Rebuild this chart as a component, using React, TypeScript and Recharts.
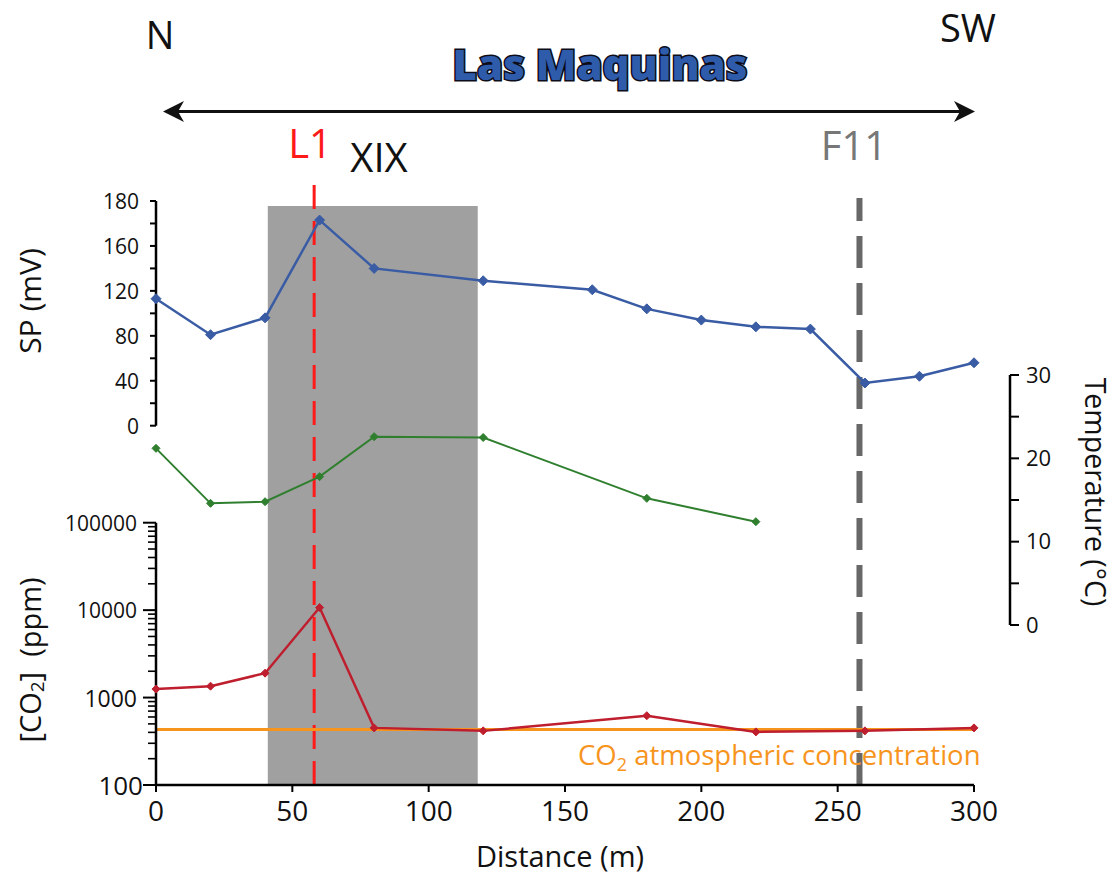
import React from 'react';
import { ComposedChart, Line, XAxis, YAxis, ReferenceLine, ReferenceArea } from 'recharts';

// ---------- data ----------
const spDistance = [0, 20, 40, 60, 80, 120, 160, 180, 200, 220, 240, 260, 280, 300];
const spValues = [113, 81, 96, 183, 140, 129, 121, 104, 94, 88, 86, 38, 44, 56];

const tempDistance = [0, 20, 40, 60, 80, 120, 180, 220];
const tempValues = [21.2, 14.6, 14.8, 17.8, 22.6, 22.5, 15.2, 12.4];

const co2Distance = [0, 20, 40, 60, 80, 120, 180, 220, 260, 300];
const co2Values = [1250, 1350, 1900, 10700, 450, 416, 620, 405, 416, 450];
const co2Atmospheric = 430;

const xTicks = [0, 50, 100, 150, 200, 250, 300];
const spTicks = [0, 20, 40, 60, 80, 100, 120, 140, 160, 180, 200];
const spTickLabels = ['0', '', '40', '', '80', '', '120', '', '160', '', '180'];
const tempTicks = [0, 5, 10, 15, 20, 25, 30];
const tempTickLabels = ['0', '', '10', '', '20', '', '30'];
const co2Ticks = [
  100, 200, 300, 400, 500, 600, 700, 800, 900,
  1000, 2000, 3000, 4000, 5000, 6000, 7000, 8000, 9000,
  10000, 20000, 30000, 40000, 50000, 60000, 70000, 80000, 90000,
  100000,
];
const co2TickLabels: Record<number, string> = { 100: '100', 1000: '1000', 10000: '10000', 100000: '100000' };

const l1Distance = 58;
const f11Distance = 258;
const xixStart = 41;
const xixEnd = 118;

const spData = spDistance.map((d, i) => ({ d, sp: spValues[i] }));
const tempData = tempDistance.map((d, i) => ({ d, t: tempValues[i] }));
const co2Data = co2Distance.map((d, i) => ({ d, co2: co2Values[i] }));

// ---------- layout ----------
const W = 1117;
const H = 877;
const PL = 156;
const PR = 974;

const SP_COLOR = '#3A5CA4';
const T_COLOR = '#2F7F2F';
const CO2_COLOR = '#BE1E2D';
const ORANGE = '#F7941D';
const FONT = '"Open Sans", "Noto Sans", sans-serif';

const co2LabelSize: Record<number, number> = { 100: 26, 1000: 23, 10000: 21, 100000: 21 };

const diamond = (size: number, color: string) => (props: any) => {
  const { cx, cy, index } = props;
  if (cx == null || cy == null) return <g key={`e${index}`} />;
  return (
    <path
      key={`d${index}`}
      d={`M${cx},${cy - size}L${cx + size},${cy}L${cx},${cy + size}L${cx - size},${cy}Z`}
      fill={color}
      stroke={color}
      strokeWidth={1}
    />
  );
};

const SpTick = (props: any) => {
  const { x, y, payload } = props;
  const i = spTicks.indexOf(payload.value);
  const label = spTickLabels[i];
  return (
    <g>
      <line x1={x - 6} x2={x} y1={y} y2={y} stroke="#000" strokeWidth={2} />
      {label ? (
        <text x={x - 17} y={y} textAnchor="end" dominantBaseline="central" fontSize={21} fill="#111">
          {label}
        </text>
      ) : null}
    </g>
  );
};

const Co2Tick = (props: any) => {
  const { x, y, payload } = props;
  const v = payload.value;
  const label = co2TickLabels[v];
  const major = !!label;
  return (
    <g>
      <line x1={x - (major ? 13 : 8)} x2={x} y1={y} y2={y} stroke="#000" strokeWidth={major ? 2 : 1.6} />
      {label ? (
        <text
          x={v === 100 ? x - 13 : x - 19}
          y={y}
          textAnchor="end"
          dominantBaseline="central"
          fontSize={co2LabelSize[v]}
          fill="#111"
        >
          {label}
        </text>
      ) : null}
    </g>
  );
};

const layer: React.CSSProperties = { position: 'absolute', left: 0, top: 0 };

const hiddenX = <XAxis dataKey="d" type="number" domain={[0, 300]} hide />;

// a layer holding only a vertical marker spanning from `top` down to the x axis
const MarkerLayer = ({ top, children }: { top: number; children: React.ReactNode }) => (
  <div style={layer}>
    <ComposedChart width={W} height={H} data={spData} margin={{ left: PL, right: W - PR, top, bottom: H - 785 }}>
      {hiddenX}
      <YAxis hide type="number" domain={[0, 200]} allowDataOverflow />
      <Line dataKey="sp" stroke="none" dot={false} activeDot={false} isAnimationActive={false} />
      {children}
    </ComposedChart>
  </div>
);

export default function App() {
  return (
    <div
      style={{
        position: 'absolute',
        left: 0,
        top: 0,
        width: W,
        height: H,
        background: '#fff',
        fontFamily: FONT,
        overflow: 'hidden',
      }}
    >
      {/* gray XIX zone */}
      <MarkerLayer top={206}>
        <ReferenceArea x1={xixStart} x2={xixEnd} fill="#A0A0A0" fillOpacity={1} stroke="none" ifOverflow="visible" />
      </MarkerLayer>

      {/* F11 dashed line */}
      <MarkerLayer top={198}>
        <ReferenceLine x={f11Distance} stroke="#686868" strokeWidth={6} strokeDasharray="32 15" ifOverflow="visible" />
      </MarkerLayer>

      {/* L1 dashed line */}
      <MarkerLayer top={177}>
        <ReferenceLine x={l1Distance} stroke="#FF1A1A" strokeWidth={3} strokeDasharray="24 12" ifOverflow="visible" />
      </MarkerLayer>

      {/* SP panel */}
      <div style={layer}>
        <ComposedChart width={W} height={H} data={spData} margin={{ left: PL - 70, right: W - PR, top: 201, bottom: H - 425.7 }}>
          {hiddenX}
          <YAxis
            yAxisId="sp"
            orientation="left"
            width={70}
            type="number"
            domain={[0, 200]}
            ticks={spTicks}
            interval={0}
            tickSize={0}
            tickMargin={0}
            tickLine={false}
            axisLine={{ stroke: '#000', strokeWidth: 2.5 }}
            tick={SpTick}
          />
          <Line
            yAxisId="sp"
            dataKey="sp"
            stroke={SP_COLOR}
            strokeWidth={2.5}
            dot={diamond(5, SP_COLOR)}
            isAnimationActive={false}
          />
        </ComposedChart>
      </div>

      {/* Temperature panel */}
      <div style={layer}>
        <ComposedChart width={W} height={H} data={tempData} margin={{ left: PL, right: W - PR - 36 - 80, top: 375, bottom: H - 625 }}>
          {hiddenX}
          <YAxis yAxisId="spacer" orientation="right" width={36} domain={[0, 1]} axisLine={false} tickLine={false} tick={false} />
          <YAxis
            yAxisId="temp"
            orientation="right"
            width={80}
            type="number"
            domain={[0, 30]}
            ticks={tempTicks}
            interval={0}
            tickSize={9}
            tickMargin={7}
            tickLine={{ stroke: '#000', strokeWidth: 2 }}
            axisLine={{ stroke: '#000', strokeWidth: 2.5 }}
            tick={{ fontSize: 22, fill: '#111' }}
            tickFormatter={(v: number) => tempTickLabels[tempTicks.indexOf(v)]}
          />
          <Line
            yAxisId="temp"
            dataKey="t"
            stroke={T_COLOR}
            strokeWidth={2}
            dot={diamond(4, T_COLOR)}
            isAnimationActive={false}
          />
        </ComposedChart>
      </div>

      {/* CO2 panel */}
      <div style={layer}>
        <ComposedChart width={W} height={H} data={co2Data} margin={{ left: PL - 90, right: W - PR, top: 522.7, bottom: H - 785 - 60 }}>
          <XAxis
            dataKey="d"
            type="number"
            domain={[0, 300]}
            ticks={xTicks}
            interval={0}
            height={60}
            tickSize={7}
            tickMargin={9}
            axisLine={{ stroke: '#000', strokeWidth: 2.5 }}
            tickLine={{ stroke: '#000', strokeWidth: 2 }}
            tick={{ fontSize: 28, fill: '#111' }}
          />
          <YAxis
            yAxisId="co2"
            orientation="left"
            width={90}
            type="number"
            scale="log"
            domain={[100, 100000]}
            allowDataOverflow
            ticks={co2Ticks}
            interval={0}
            tickSize={0}
            tickMargin={0}
            tickLine={false}
            axisLine={{ stroke: '#000', strokeWidth: 2.5 }}
            tick={Co2Tick}
          />
          <ReferenceLine yAxisId="co2" y={co2Atmospheric} stroke={ORANGE} strokeWidth={3} />
          <Line
            yAxisId="co2"
            dataKey="co2"
            stroke={CO2_COLOR}
            strokeWidth={2.5}
            dot={diamond(4, CO2_COLOR)}
            isAnimationActive={false}
          />
        </ComposedChart>
      </div>

      {/* annotations */}
      <svg width={W} height={H} style={{ ...layer, pointerEvents: 'none' }} fontFamily={FONT}>
        <text x={160} y={49} textAnchor="middle" fontSize={38} fill="#111">N</text>
        <text x={968} y={42} textAnchor="middle" fontSize={38} fill="#111">SW</text>
        <text
          x={600}
          y={80}
          textAnchor="middle"
          fontSize={42}
          fontWeight={800}
          fill="#2E5BAA"
          stroke="#0d0d1a"
          strokeWidth={3}
          paintOrder="stroke"
        >
          Las Maquinas
        </text>
        {/* double arrow */}
        <line x1={176} x2={962} y1={111.5} y2={111.5} stroke="#111" strokeWidth={3} />
        <path d="M163,111.5 L184,101 L178,111.5 L184,122 Z" fill="#111" />
        <path d="M975,111.5 L954,101 L960,111.5 L954,122 Z" fill="#111" />

        <text x={310} y={158} textAnchor="middle" fontSize={40} fill="#FF1A1A">L1</text>
        <text x={379} y={172} textAnchor="middle" fontSize={40} fill="#111">XIX</text>
        <text x={854} y={160} textAnchor="middle" fontSize={40} fill="#777">F11</text>

        <text transform="translate(29,301) rotate(-90)" textAnchor="middle" dominantBaseline="central" fontSize={30} fill="#111">
          SP (mV)
        </text>
        <text transform="translate(29,660) rotate(-90)" textAnchor="middle" dominantBaseline="central" fontSize={29} fill="#111">
          [CO<tspan dy={8} fontSize={19}>2</tspan><tspan dy={-8}>]{'\u00A0\u00A0'}(ppm)</tspan>
        </text>
        <text transform="translate(1096,492) rotate(90)" textAnchor="middle" dominantBaseline="central" fontSize={28.5} fill="#111">
          Temperature (°C)
        </text>
        <text x={560} y={867} textAnchor="middle" fontSize={29} fill="#111">Distance (m)</text>
        <text x={578} y={765} fontSize={27.5} fill={ORANGE}>
          CO<tspan dy={6} fontSize={18}>2</tspan><tspan dy={-6}> atmospheric concentration</tspan>
        </text>
      </svg>
    </div>
  );
}
